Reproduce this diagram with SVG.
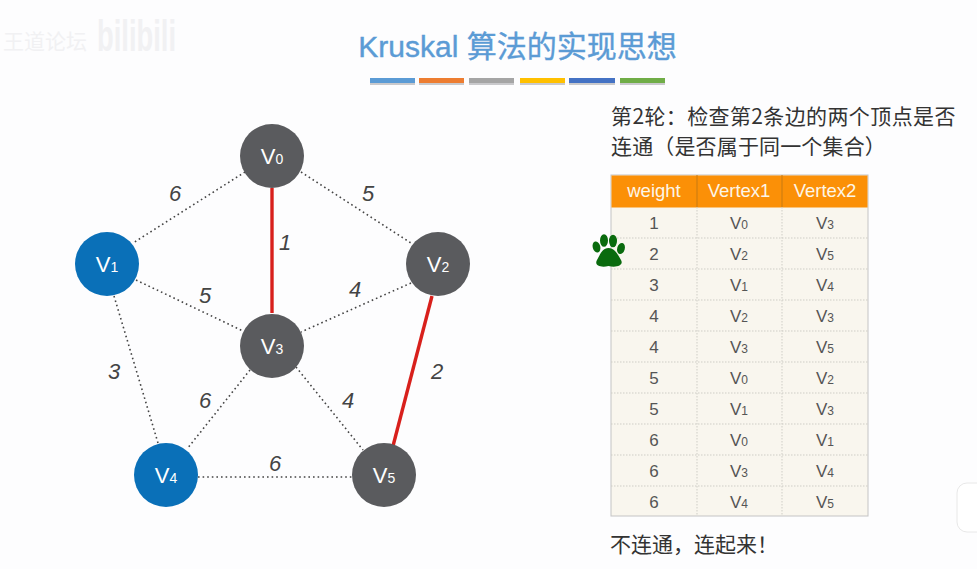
<svg xmlns="http://www.w3.org/2000/svg" width="977" height="569" viewBox="0 0 977 569">
<style>
text{font-family:"Liberation Sans","Noto Sans CJK SC",sans-serif}
.cjk{font-family:"Noto Sans CJK SC","Liberation Sans",sans-serif}
.dot{stroke:#444;stroke-width:1.6;stroke-dasharray:1.6 3;fill:none}
.red{stroke:#d8201c;stroke-width:3.4;fill:none}
.w{font-size:22px;font-style:italic;fill:#444;text-anchor:middle}
.n{font-size:22px;fill:#fff;text-anchor:middle}
.s{font-size:14px}
.gray{fill:#5a5b5e}
.blue{fill:#0a70b8}
.h{font-size:18.5px;fill:#fdf6e8;text-anchor:middle}
.c{font-size:17px;fill:#555;text-anchor:middle}
.cs{font-size:12px}
.t{font-size:21px;fill:#333}
.rl{stroke:#cfcdc6;stroke-width:1;stroke-dasharray:1.5 1.5}
.shadow{fill:#c9c9cc}
</style>
<rect width="977" height="569" fill="#fdfdfe"/>
<g id="watermark" fill="#f1f1f3">
<text class="cjk" x="3" y="49" font-size="21">王道论坛</text>
<text x="97" y="51" font-size="44" font-weight="bold" textLength="79" lengthAdjust="spacingAndGlyphs">bilibili</text>
</g>
<text id="title" x="517.500" y="57" font-size="30" fill="#5b9bd5" stroke="#5b9bd5" stroke-width="0.4" text-anchor="middle">Kruskal 算法的实现思想</text>
<g id="title-bars">
<rect class="shadow" x="370" y="82" width="45" height="3"/>
<rect class="shadow" x="419" y="82" width="45" height="3"/>
<rect class="shadow" x="469" y="82" width="45" height="3"/>
<rect class="shadow" x="520" y="82" width="45" height="3"/>
<rect class="shadow" x="569" y="82" width="46" height="3"/>
<rect class="shadow" x="620" y="82" width="45" height="3"/>
<rect x="370" y="78" width="45" height="5" fill="#5b9bd5"/>
<rect x="419" y="78" width="45" height="5" fill="#ed7d31"/>
<rect x="469" y="78" width="45" height="5" fill="#a5a5a5"/>
<rect x="520" y="78" width="45" height="5" fill="#ffc000"/>
<rect x="569" y="78" width="46" height="5" fill="#4472c4"/>
<rect x="620" y="78" width="45" height="5" fill="#70ad47"/>
</g>
<g id="connectors">
<line class="dot" x1="245" y1="172" x2="133" y2="243"/>
<line class="dot" x1="301" y1="172" x2="411" y2="243"/>
<line class="dot" x1="136" y1="280" x2="243" y2="331"/>
<line class="dot" x1="411" y1="283" x2="301" y2="332"/>
<line class="dot" x1="114" y1="296" x2="158" y2="443"/>
<line class="dot" x1="250" y1="370" x2="187" y2="449"/>
<line class="dot" x1="296" y1="367" x2="363" y2="450"/>
<line class="dot" x1="198" y1="477" x2="352" y2="477"/>
<line class="red" x1="272" y1="188" x2="272" y2="313"/>
<line class="red" x1="432" y1="296" x2="393" y2="446"/>
</g>
<g id="weights">
<text class="w" x="175" y="201">6</text>
<text class="w" x="368" y="201">5</text>
<text class="w" x="285" y="250">1</text>
<text class="w" x="205" y="303">5</text>
<text class="w" x="355" y="297">4</text>
<text class="w" x="437" y="379">2</text>
<text class="w" x="114" y="379">3</text>
<text class="w" x="205" y="408">6</text>
<text class="w" x="348" y="408">4</text>
<text class="w" x="275" y="471">6</text>
</g>
<g id="v0"><circle class="gray" cx="272" cy="156" r="32"/><text class="n" x="272" y="164">V<tspan class="s">0</tspan></text></g>
<g id="v1"><circle class="blue" cx="107" cy="264" r="32"/><text class="n" x="107" y="272">V<tspan class="s">1</tspan></text></g>
<g id="v2"><circle class="gray" cx="438" cy="264" r="32"/><text class="n" x="438" y="272">V<tspan class="s">2</tspan></text></g>
<g id="v3"><circle class="gray" cx="272" cy="346" r="32"/><text class="n" x="272" y="354">V<tspan class="s">3</tspan></text></g>
<g id="v4"><circle class="blue" cx="166" cy="475" r="32"/><text class="n" x="166" y="483">V<tspan class="s">4</tspan></text></g>
<g id="v5"><circle class="gray" cx="384" cy="475" r="32"/><text class="n" x="384" y="483">V<tspan class="s">5</tspan></text></g>
<g id="description">
<text class="cjk t" x="611" y="124" letter-spacing="0.38">第2轮：检查第2条边的两个顶点是否</text>
<text class="cjk t" x="611" y="154" letter-spacing="0.15">连通（是否属于同一个集合）</text>
</g>
<g id="table">
<rect x="611" y="175" width="257" height="341" fill="#f9f6ee" stroke="#c4c4c4"/>
<rect x="611.500" y="175.500" width="256" height="32" fill="#fb9007"/>
<path class="rl" d="M611 238H868M611 269H868M611 300H868M611 331H868M611 362H868M611 393H868M611 424H868M611 455H868M611 486H868M697 207V516M782 207V516"/>
<path d="M697 175V207M782 175V207" stroke="#c77a12"/>
<text class="h" x="654" y="197">weight</text><text class="h" x="739" y="197">Vertex1</text><text class="h" x="825" y="197">Vertex2</text>
<text class="c" x="654" y="229">1</text><text class="c" x="739" y="229">V<tspan class="cs">0</tspan></text><text class="c" x="825" y="229">V<tspan class="cs">3</tspan></text>
<text class="c" x="654" y="260">2</text><text class="c" x="739" y="260">V<tspan class="cs">2</tspan></text><text class="c" x="825" y="260">V<tspan class="cs">5</tspan></text>
<text class="c" x="654" y="291">3</text><text class="c" x="739" y="291">V<tspan class="cs">1</tspan></text><text class="c" x="825" y="291">V<tspan class="cs">4</tspan></text>
<text class="c" x="654" y="322">4</text><text class="c" x="739" y="322">V<tspan class="cs">2</tspan></text><text class="c" x="825" y="322">V<tspan class="cs">3</tspan></text>
<text class="c" x="654" y="353">4</text><text class="c" x="739" y="353">V<tspan class="cs">3</tspan></text><text class="c" x="825" y="353">V<tspan class="cs">5</tspan></text>
<text class="c" x="654" y="384">5</text><text class="c" x="739" y="384">V<tspan class="cs">0</tspan></text><text class="c" x="825" y="384">V<tspan class="cs">2</tspan></text>
<text class="c" x="654" y="415">5</text><text class="c" x="739" y="415">V<tspan class="cs">1</tspan></text><text class="c" x="825" y="415">V<tspan class="cs">3</tspan></text>
<text class="c" x="654" y="446">6</text><text class="c" x="739" y="446">V<tspan class="cs">0</tspan></text><text class="c" x="825" y="446">V<tspan class="cs">1</tspan></text>
<text class="c" x="654" y="477">6</text><text class="c" x="739" y="477">V<tspan class="cs">3</tspan></text><text class="c" x="825" y="477">V<tspan class="cs">4</tspan></text>
<text class="c" x="654" y="508">6</text><text class="c" x="739" y="508">V<tspan class="cs">4</tspan></text><text class="c" x="825" y="508">V<tspan class="cs">5</tspan></text>
</g>
<g id="paw" fill="#0a6b0e">
<ellipse cx="596.500" cy="247" rx="3.800" ry="5.700" transform="rotate(-15 596.500 247)"/>
<ellipse cx="604" cy="240.500" rx="4" ry="6.300"/>
<ellipse cx="613" cy="241" rx="4" ry="6.300"/>
<ellipse cx="621" cy="248.500" rx="3.800" ry="5.700" transform="rotate(15 621 248.500)"/>
<path d="M608.500 248C602 248 600 255 597 260C594 265 600 268 608.500 266C617 268 624 265 621 260C618 255 615 248 608.500 248Z"/>
</g>
<text id="conclusion" class="cjk t" x="610" y="552">不连通，连起来！</text>
<g id="corner-shape">
<rect x="957" y="483" width="40" height="49" rx="10" fill="#fff" stroke="#e8e8e8"/>
</g>
</svg>
